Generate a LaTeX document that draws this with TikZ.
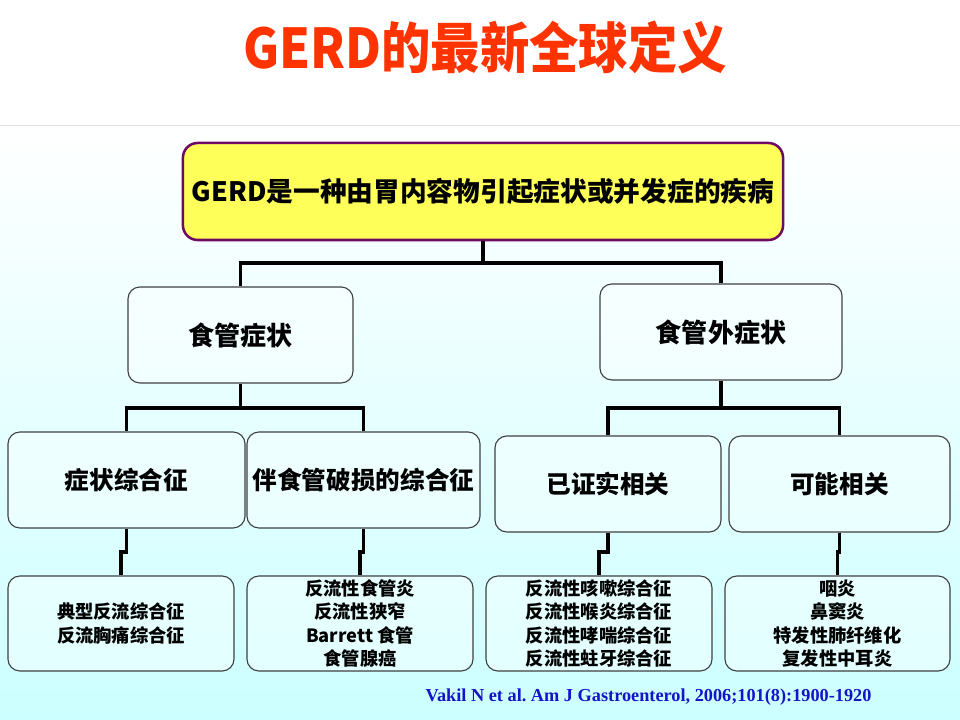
\documentclass[tikz,border=0pt]{standalone}
\usepackage{fontspec}
\setmainfont{Noto Sans CJK SC}
\newfontfamily\citefont{Liberation Serif}
\usetikzlibrary{positioning,calc,backgrounds}
\definecolor{titlered}{RGB}{255,51,0}
\definecolor{boxyellow}{RGB}{255,255,90}
\definecolor{boxpurple}{RGB}{110,10,100}
\definecolor{citeblue}{RGB}{20,20,200}
\definecolor{bgcyan}{RGB}{204,255,255}
\frenchspacing

\begin{document}
\begin{tikzpicture}
[x=0.025cm,y=-0.025cm,
rbox/.style={draw=black!75,line width=.8pt,rounded corners=8.5pt,fill=white,fill opacity=.4,
  text opacity=1,inner sep=0pt,align=center},
topbox/.style={draw=boxpurple,line width=1.8pt,rounded corners=10.5pt,fill=boxyellow,
  inner sep=0pt,minimum width=15cm,minimum height=2.425cm,font=\bfseries\fontsize{19}{22}\selectfont},
midbox/.style={rbox,minimum height=2.4cm,font=\bfseries\fontsize{18.5}{22}\selectfont},
subbox/.style={rbox,minimum height=2.4cm,font=\bfseries\fontsize{17.5}{21}\selectfont},
leafbox/.style={rbox,minimum width=5.65cm,minimum height=2.375cm,font=\bfseries\fontsize{13}{16.6}\selectfont},
conn/.style={line width=2.7pt}]
%%
% background
%%
\useasboundingbox (0,0) rectangle (960,720);
\fill[white] (0,0) rectangle (960,125);
\shade[top color=white,bottom color=bgcyan] (0,125) rectangle (960,720);
\draw[black!12] (0,125) -- (960,125);
%%
% title
%%
\node[text=titlered,font=\bfseries\fontsize{39}{42}\selectfont,xscale=.9] (title) at (485,47) {GERD的最新全球定义};
%%
% definition
%%
\node[topbox] (gerd) at (483,191.5) {GERD是一种由胃内容物引起症状或并发症的疾病};
%%
% two kinds of symptoms
%%
\node[midbox,minimum width=5.625cm] (eso) at (240.5,335) {食管症状};
\node[midbox,minimum width=6.05cm] (extra) at (721,332) {食管外症状};
%%
% syndromes
%%
\node[subbox,minimum width=5.925cm] (synd) at (126.5,480) {症状综合征};
\node[subbox,minimum width=5.825cm] (injury) at (363.5,480) {伴食管破损的综合征};
\node[subbox,minimum width=5.65cm] (proven) at (608,484) {已证实相关};
\node[subbox,minimum width=5.525cm] (possible) at (839.5,484) {可能相关};
%%
% lists
%%
\node[leafbox] (typical) at (121,623.5) {典型反流综合征\\反流胸痛综合征};
\node[leafbox] (lesion) at (360,623.5) {反流性食管炎\\反流性狭窄\\Barrett 食管\\食管腺癌};
\node[leafbox] (cough) at (599,623.5) {反流性咳嗽综合征\\反流性喉炎综合征\\反流性哮喘综合征\\反流性蛀牙综合征};
\node[leafbox,minimum width=5.625cm] (pharyn) at (837.5,623.5) {咽炎\\鼻窦炎\\特发性肺纤维化\\复发性中耳炎};
%%
% connectors
%%
\draw[conn] (gerd.south) -- (gerd.south|-0,263) -| (eso.north);
\draw[conn] (gerd.south|-0,263) -| (extra.north);
\draw[conn] (eso.south) -- (eso.south|-0,408) -| (synd.north);
\draw[conn] (eso.south|-0,408) -| (injury.north);
\draw[conn] (extra.south) -- (extra.south|-0,408) -| (proven.north);
\draw[conn] (extra.south|-0,408) -| (possible.north);
%% small steps down to the lists
\draw[conn] (synd.south) -- (synd.south|-0,552) -| (typical.north);
\draw[conn] (injury.south) -- (injury.south|-0,552) -| (lesion.north);
\draw[conn] (proven.south) -- (proven.south|-0,552) -| (cough.north);
\draw[conn] (possible.south) -- (possible.south|-0,552) -| (pharyn.north);
%%
% reference
%%
\node[text=citeblue,font=\citefont\bfseries\fontsize{13}{15}\selectfont] (cite) at (648.5,697)
{Vakil N et al. Am J Gastroenterol, 2006;101(8):1900-1920};
\end{tikzpicture}
\end{document}
